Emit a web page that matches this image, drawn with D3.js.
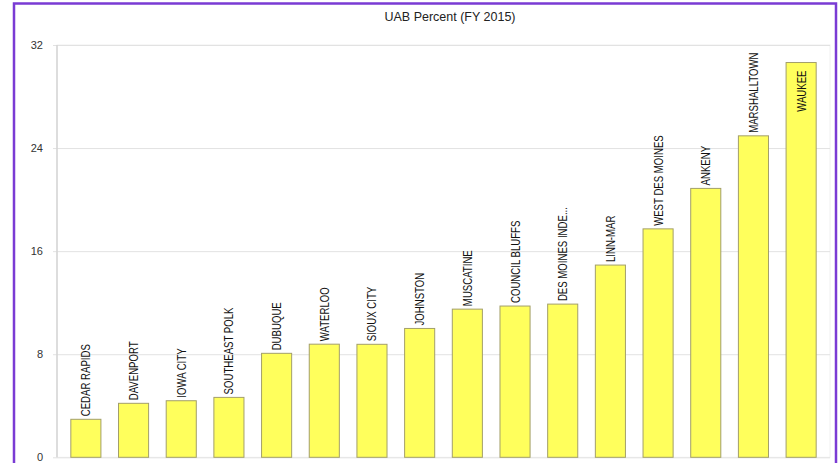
<!DOCTYPE html>
<html>
<head>
<meta charset="utf-8">
<script src="https://cdn.jsdelivr.net/npm/d3@7/dist/d3.min.js"></script>
<style>
  html, body { margin: 0; padding: 0; background: #fff; }
  svg { display: block; }
</style>
</head>
<body>
<div id="chart"></div>
<script>
// UAB percent by district, FY 2015
const districts = [
  "CEDAR RAPIDS", "DAVENPORT", "IOWA CITY", "SOUTHEAST POLK", "DUBUQUE",
  "WATERLOO", "SIOUX CITY", "JOHNSTON", "MUSCATINE", "COUNCIL BLUFFS",
  "DES MOINES INDE...", "LINN-MAR", "WEST DES MOINES", "ANKENY",
  "MARSHALLTOWN", "WAUKEE"
];
const uabPercent = [
  2.95, 4.19, 4.39, 4.65, 8.07,
  8.78, 8.77, 10.0, 11.5, 11.74,
  11.89, 14.92, 17.73, 20.87,
  24.95, 30.64
];
const yTicks = [0, 8, 16, 24, 32];
const chartTitle = "UAB Percent (FY 2015)";

const W = 840, H = 463;
const plot = { left: 57, right: 830, top: 45, bottom: 457.3 };
const labelSquash = 0.77; // condensed look for the category labels

const svg = d3.select("#chart").append("svg")
  .attr("width", W).attr("height", H);

// outer frame
svg.append("rect")
  .attr("x", 14).attr("y", 3.5)
  .attr("width", 822).attr("height", H + 10)
  .attr("fill", "none")
  .attr("stroke", "#7a3bd4")
  .attr("stroke-width", 2.5);

const x = d3.scaleBand()
  .domain(districts)
  .range([plot.left, plot.right])
  .paddingInner(0.369)
  .paddingOuter(0.29);

const y = d3.scaleLinear()
  .domain([0, 32])
  .range([plot.bottom, plot.top]);

// title
svg.append("text")
  .attr("x", 450).attr("y", 21)
  .attr("text-anchor", "middle")
  .attr("font-family", "Liberation Sans, Arial, sans-serif")
  .attr("font-size", 12.5)
  .attr("fill", "#222")
  .text(chartTitle);

// plot outline (faint)
svg.append("rect")
  .attr("x", plot.left).attr("y", plot.top)
  .attr("width", plot.right - plot.left)
  .attr("height", plot.bottom - plot.top)
  .attr("fill", "none")
  .attr("stroke", "#f0f0f0");

// y axis with gridlines
const yAxis = d3.axisLeft(y)
  .tickValues(yTicks)
  .tickSize(-(plot.right - plot.left + 4))
  .tickPadding(10)
  .tickFormat(d3.format("d"));

const gy = svg.append("g")
  .attr("transform", `translate(${plot.left - 4},0)`)
  .call(yAxis);
gy.select(".domain").remove();
gy.selectAll(".tick line").attr("stroke", "#e2e2e2");
gy.selectAll(".tick text")
  .attr("font-family", "Liberation Sans, Arial, sans-serif")
  .attr("font-size", 11)
  .attr("fill", "#333");

// left axis line
svg.append("line")
  .attr("x1", plot.left).attr("x2", plot.left)
  .attr("y1", plot.top).attr("y2", plot.bottom)
  .attr("stroke", "#d4d4d4")
  .attr("stroke-width", 1.5);

// bars
svg.append("g").selectAll("rect")
  .data(districts)
  .join("rect")
  .attr("x", d => x(d))
  .attr("y", (d, i) => y(uabPercent[i]))
  .attr("width", x.bandwidth())
  .attr("height", (d, i) => y(0) - y(uabPercent[i]))
  .attr("fill", "#ffff5c")
  .attr("stroke", "#a39f6a")
  .attr("stroke-width", 1);

// rotated category labels: above the bar, or inside if no room
const labels = svg.append("g").selectAll("text")
  .data(districts)
  .join("text")
  .attr("font-family", "Liberation Sans, Arial, sans-serif")
  .attr("font-size", 12.5)
  .attr("fill", "#111")
  .attr("dominant-baseline", "central")
  .text(d => d);

labels.each(function(d, i) {
  const t = d3.select(this);
  const len = this.getComputedTextLength() * labelSquash;
  const cx = x(d) + x.bandwidth() / 2;
  const top = y(uabPercent[i]);
  let ty, anchor;
  if (top - 3 - len >= plot.top) {
    ty = top - 3; anchor = "start";
  } else {
    ty = top + 8; anchor = "end";
  }
  t.attr("text-anchor", anchor)
   .attr("transform", `translate(${cx},${ty}) rotate(-90) scale(${labelSquash},1)`);
});
</script>
</body>
</html>
